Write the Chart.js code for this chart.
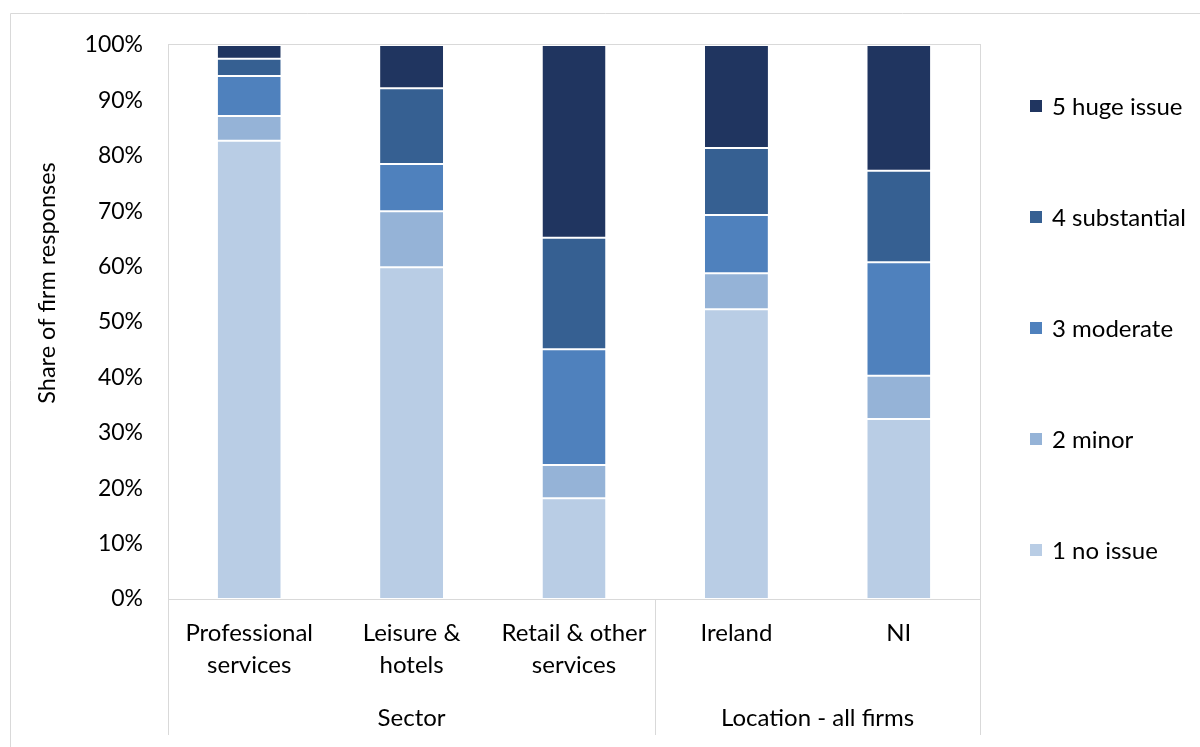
<!DOCTYPE html>
<html>
<head>
<meta charset="utf-8">
<script src="https://cdn.jsdelivr.net/npm/chart.js@4.4.1/dist/chart.umd.min.js"></script>
<style>
  html, body { margin: 0; padding: 0; background: #fff; }
  #wrap { width: 1200px; height: 747px; }
</style>
</head>
<body>
<div id="wrap"><canvas id="chart" width="1200" height="747"></canvas></div>
<script>
// categories and groups
const categories = [
  ['Professional', 'services'],
  ['Leisure &', 'hotels'],
  ['Retail & other', 'services'],
  ['Ireland'],
  ['NI']
];
const groups = [
  { label: 'Sector', from: 0, to: 2 },
  { label: 'Location - all firms', from: 3, to: 4 }
];

// share of responses (%) per answer, bottom to top
const noIssue     = [82.7, 59.9, 18.2, 52.3, 32.5];
const minor       = [4.5, 10.1, 6.0, 6.5, 7.8];
const moderate    = [7.2, 8.5, 20.9, 10.5, 20.5];
const substantial = [3.1, 13.7, 20.1, 12.1, 16.5];
const hugeIssue   = [2.5, 7.8, 34.8, 18.6, 22.7];

const seriesNames = ['1 no issue', '2 minor', '3 moderate', '4 substantial', '5 huge issue'];
const seriesData = [noIssue, minor, moderate, substantial, hugeIssue];
const seriesColors = ['#b9cde5', '#95b3d7', '#4f81bd', '#366092', '#203560'];

const yTicks = [0, 10, 20, 30, 40, 50, 60, 70, 80, 90, 100];

const FONT = 'Lato';
const gridColor = '#d9d9d9';

// frame, group labels on the category axis, y title and legend
const extras = {
  id: 'extras',
  beforeDraw(chart) {
    const ctx = chart.ctx;
    ctx.save();
    ctx.strokeStyle = gridColor;
    ctx.lineWidth = 1;
    // outer chart border (top + left visible)
    ctx.beginPath();
    ctx.moveTo(10.5, 747);
    ctx.lineTo(10.5, 13.5);
    ctx.lineTo(1200, 13.5);
    ctx.stroke();
    ctx.restore();
  },
  afterDraw(chart) {
    const ctx = chart.ctx;
    const area = chart.chartArea;
    const x = chart.scales.x;
    ctx.save();
    ctx.strokeStyle = gridColor;
    ctx.lineWidth = 1;
    ctx.strokeRect(area.left + 0.5, area.top - 0.5, area.right - area.left, area.bottom - area.top + 1);

    // group separators
    const half = (x.getPixelForValue(1) - x.getPixelForValue(0)) / 2;
    const edges = [area.left];
    groups.forEach(g => edges.push(x.getPixelForValue(g.to) + half));
    edges[edges.length - 1] = area.right;
    ctx.beginPath();
    edges.forEach(e => {
      const px = Math.round(e) + 0.5;
      ctx.moveTo(px, area.bottom);
      ctx.lineTo(px, 735);
    });
    ctx.stroke();

    ctx.fillStyle = '#000';
    ctx.font = '24px ' + FONT;
    ctx.textAlign = 'center';
    ctx.textBaseline = 'middle';
    groups.forEach(g => {
      const cx = (x.getPixelForValue(g.from) - half + x.getPixelForValue(g.to) + half) / 2;
      ctx.fillText(g.label, cx, 718);
    });

    // y axis title
    ctx.save();
    ctx.translate(47, 283);
    ctx.rotate(-Math.PI / 2);
    ctx.font = '23.5px ' + FONT;
    ctx.fillText('Share of firm responses', 0, 0);
    ctx.restore();

    // legend, top item = last series
    ctx.textAlign = 'left';
    ctx.font = '24px ' + FONT;
    for (let k = 0; k < seriesNames.length; k++) {
      const i = seriesNames.length - 1 - k;
      const cy = 106 + k * 111;
      ctx.fillStyle = seriesColors[i];
      ctx.fillRect(1030, cy - 6, 12, 12);
      ctx.fillStyle = '#000';
      ctx.fillText(seriesNames[i], 1052, cy + 1);
    }
    ctx.restore();
  }
};

const chart = new Chart(document.getElementById('chart').getContext('2d'), {
  type: 'bar',
  data: {
    labels: categories,
    datasets: seriesNames.map((name, i) => ({
      label: name,
      data: seriesData[i],
      backgroundColor: seriesColors[i],
      borderColor: '#ffffff',
      borderWidth: { top: 1, bottom: 1, left: 0, right: 0 },
      borderSkipped: false,
      categoryPercentage: 1,
      barPercentage: 0.388
    }))
  },
  options: {
    responsive: false,
    animation: false,
    layout: { padding: { top: 45, right: 220, bottom: 0, left: 10 } },
    plugins: {
      legend: { display: false },
      tooltip: { enabled: false }
    },
    scales: {
      x: {
        stacked: true,
        grid: { display: false, drawTicks: false },
        border: { display: true, color: gridColor },
        ticks: {
          color: '#000',
          font: { family: FONT, size: 24, lineHeight: 1.33 },
          padding: 18,
          maxRotation: 0,
          autoSkip: false
        },
        afterFit(scale) { scale.height = 148; }
      },
      y: {
        stacked: true,
        min: 0,
        max: 100,
        grid: { display: false, drawTicks: false },
        border: { display: true, color: gridColor },
        afterBuildTicks(scale) { scale.ticks = yTicks.map(v => ({ value: v })); },
        ticks: {
          color: '#000',
          font: { family: FONT, size: 23 },
          padding: 25,
          callback: v => v + '%'
        },
        afterFit(scale) { scale.width = 158; }
      }
    }
  },
  plugins: [extras]
});
</script>
</body>
</html>
